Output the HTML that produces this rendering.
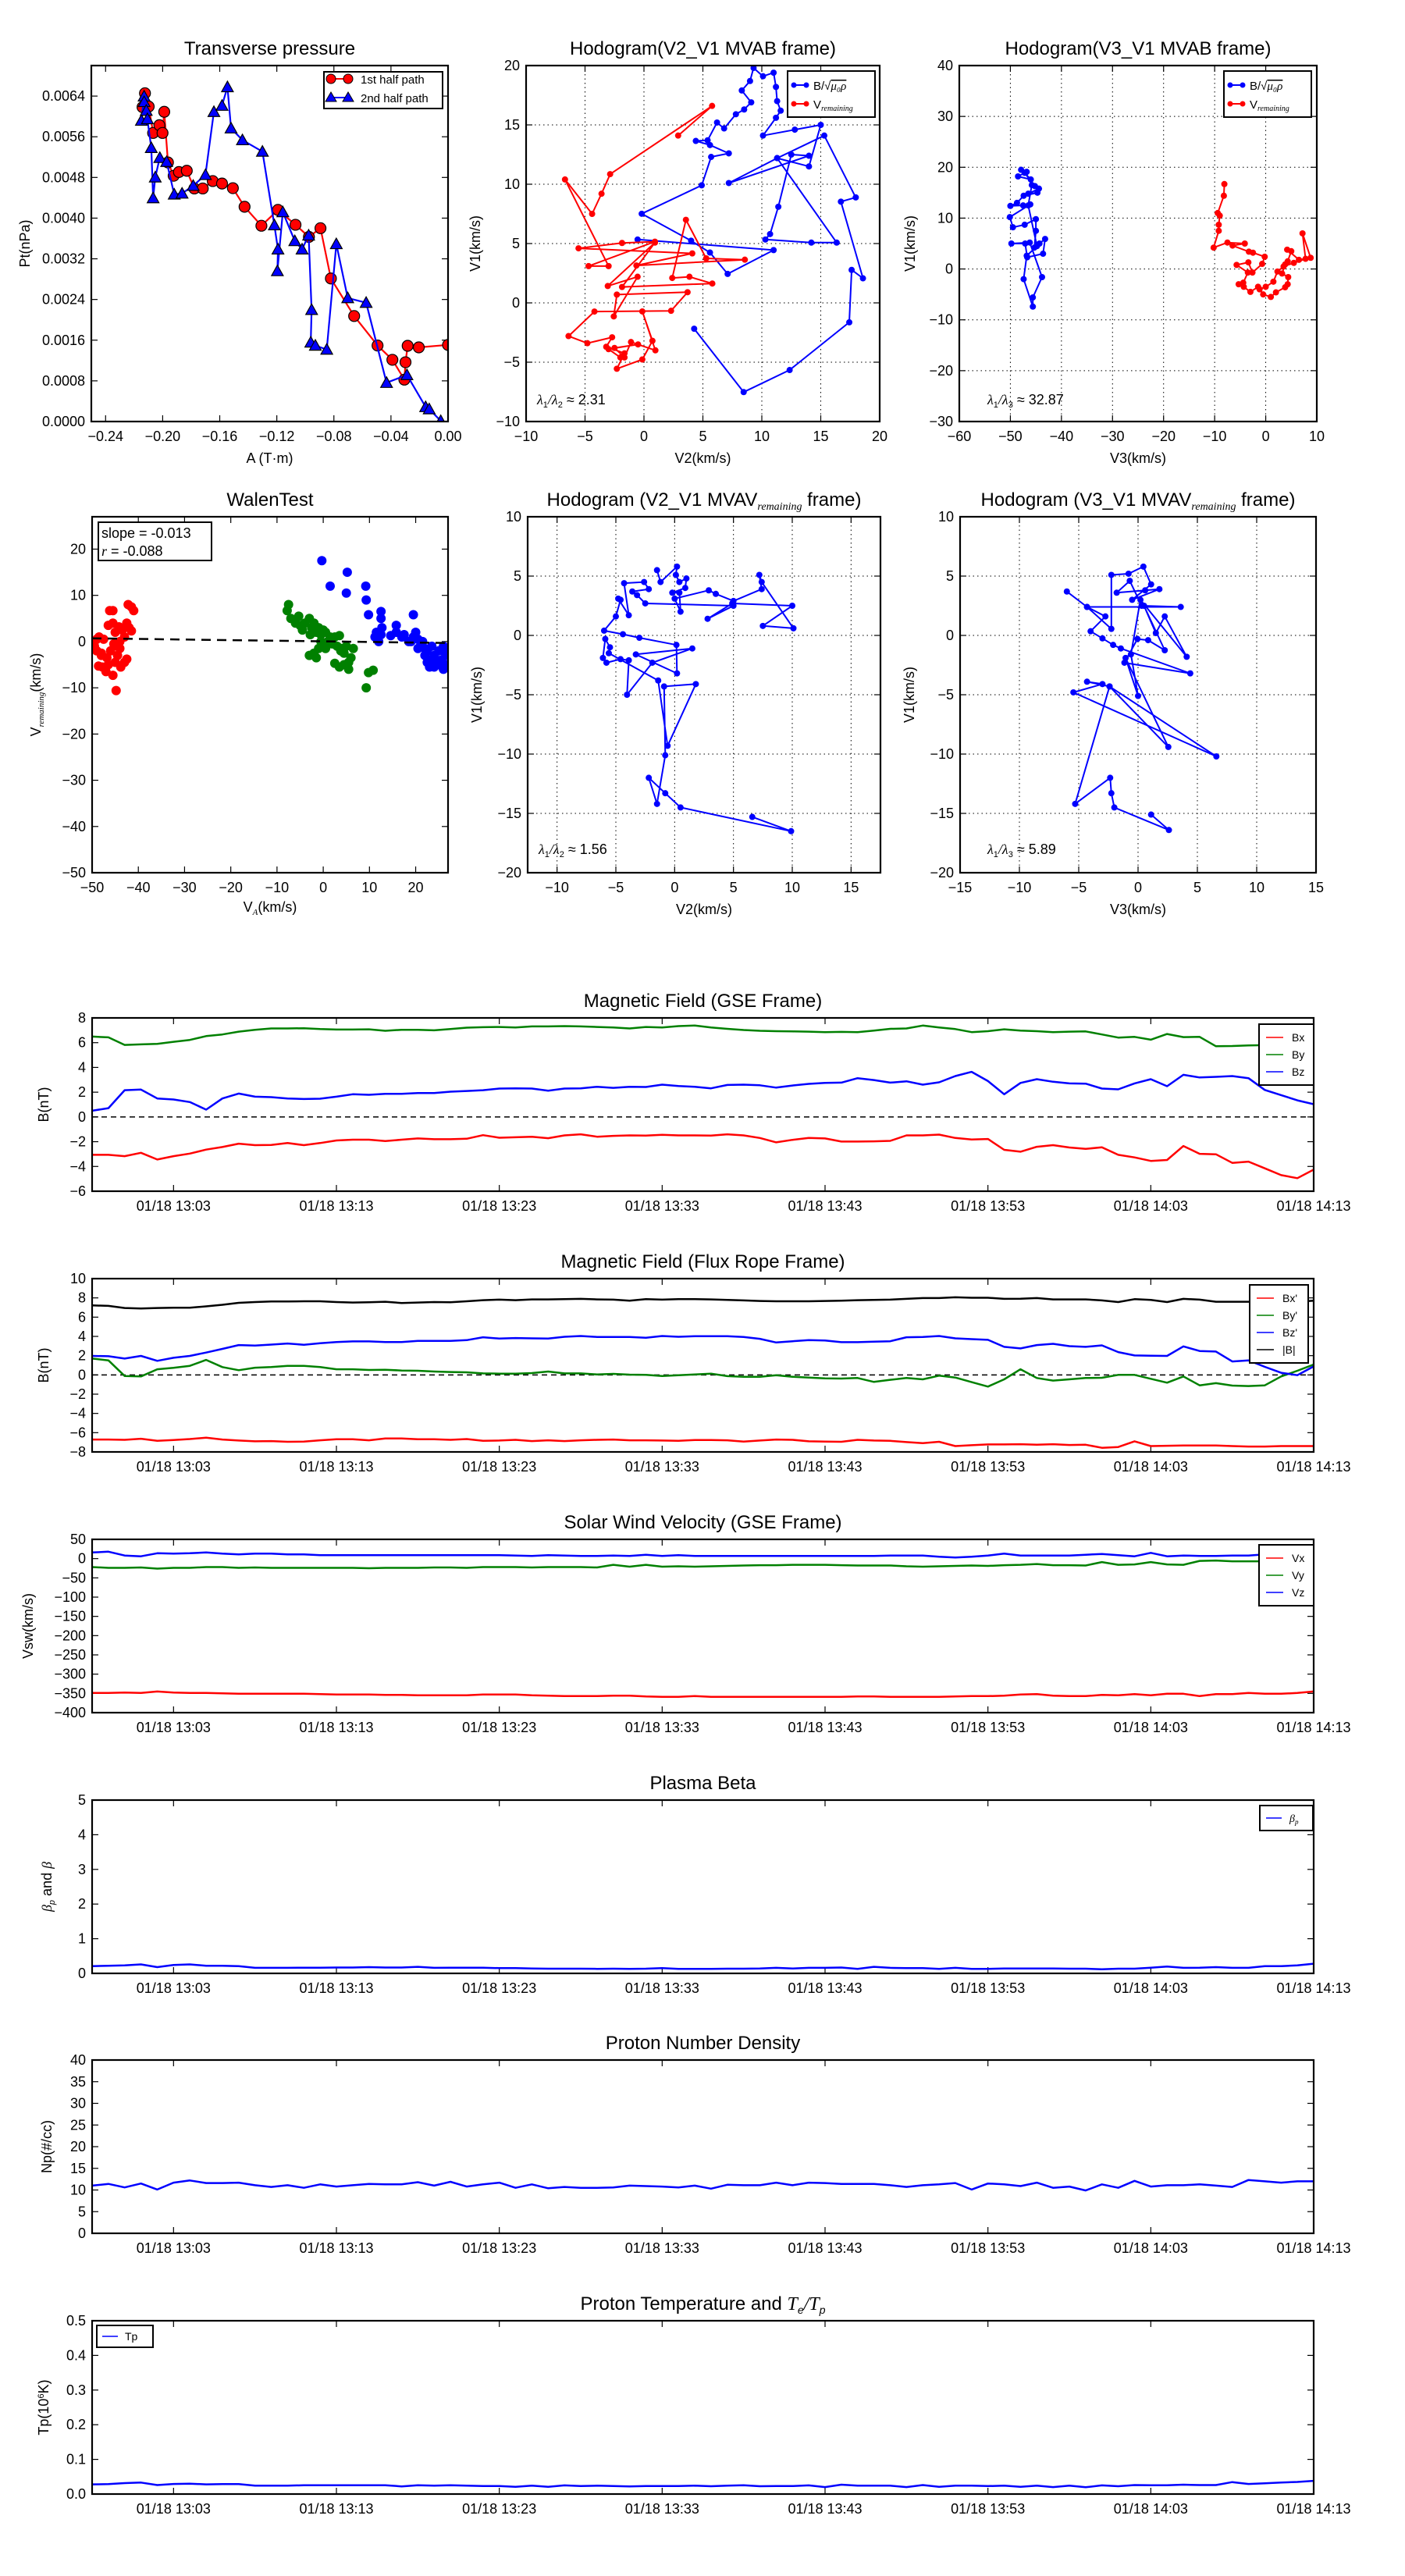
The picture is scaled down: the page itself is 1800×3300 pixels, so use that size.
<!DOCTYPE html>
<html><head><meta charset="utf-8"><title>Flux rope analysis</title>
<style>
html,body{margin:0;padding:0;background:#fff;}
svg{display:block;font-family:"Liberation Sans",sans-serif;}
</style></head>
<body>
<svg id="fig" xmlns="http://www.w3.org/2000/svg" width="1800" height="3300" viewBox="0 0 1800 3300">
<rect x="0" y="0" width="1800" height="3300" fill="#fff"/>
</svg>
<script>
// ---------- Transverse pressure ----------
const tpRedA = [-0.2141,-0.2124,-0.2098,-0.2067,-0.2023,-0.2001,-0.1989,-0.1963,-0.1923,-0.1886,-0.1831,-0.1778,-0.1719,-0.1649,-0.1584,-0.1508,-0.1426,-0.1308,-0.1192,-0.1069,-0.0975,-0.0894,-0.0821,-0.0658,-0.0494,-0.0390,-0.0306,-0.0298,-0.0283,-0.0205,0.0];
const tpRedPt = [0.006182,0.006456,0.006194,0.005675,0.005828,0.005675,0.00609,0.005095,0.004833,0.004906,0.004931,0.004583,0.004583,0.004729,0.00468,0.004589,0.004223,0.00385,0.004162,0.003869,0.003631,0.003802,0.002813,0.002075,0.001495,0.001214,0.000824,0.001166,0.001489,0.001458,0.001507];
const tpBlueA = [-0.2130,-0.2149,-0.2130,-0.2115,-0.2107,-0.2080,-0.2067,-0.2052,-0.2020,-0.1972,-0.1919,-0.1864,-0.1786,-0.1700,-0.1641,-0.1584,-0.1546,-0.1521,-0.1441,-0.1301,-0.1217,-0.1192,-0.1196,-0.1158,-0.1074,-0.1023,-0.0977,-0.0956,-0.0962,-0.0930,-0.0850,-0.0783,-0.0703,-0.0574,-0.0431,-0.0288,-0.0157,-0.0132,-0.0051];
const tpBluePt = [0.006395,0.005919,0.006285,0.006114,0.005949,0.005382,0.004394,0.004803,0.005187,0.005108,0.004467,0.004485,0.004638,0.004851,0.00609,0.006212,0.006578,0.005767,0.005535,0.005309,0.003863,0.003387,0.00296,0.004119,0.003551,0.003387,0.003661,0.002197,0.001556,0.001495,0.001416,0.003491,0.002429,0.002337,0.000763,0.000915,0.000287,0.000244,0.000012];
const tpXTicks = [-0.24,-0.20,-0.16,-0.12,-0.08,-0.04,0.00];
const tpYTicks = [0,0.0008,0.0016,0.0024,0.0032,0.0040,0.0048,0.0056,0.0064];

// ---------- Hodogram V2_V1 MVAB ----------
const h1BlueV2 = [4.26,8.46,12.36,17.42,17.62,18.58,16.71,17.97,15.3,11.3,16.35,14.2,10.3,10.7,11.4,12.5,14.0,7.2,11.3,14.0,15.0,12.8,10.1,11.2,11.6,11.3,11.2,11.0,10.1,9.3,9.0,8.3,9.1,8.5,7.8,6.8,6.2,5.4,4.4,5.6,7.2,5.7,4.9,-0.19,4.0,5.6,7.1,11.0,-0.54];
const h1BlueV1 = [-2.18,-7.52,-5.66,-1.64,2.78,2.07,8.53,8.89,14.1,12.2,5.08,5.08,5.34,5.8,8.1,12.5,12.4,10.1,12.2,11.5,15.0,14.6,14.1,15.6,16.2,17.0,18.2,19.4,19.1,19.8,18.7,17.9,16.9,16.3,15.9,14.7,15.2,13.7,13.65,13.3,12.6,12.3,9.91,7.51,5.24,4.24,2.44,4.45,5.34];
const h1RedV2 = [2.9,5.78,-2.87,-3.6,-4.4,-6.7,-3.0,-4.7,0.93,-1.86,-5.55,4.1,-0.64,8.56,5.28,3.56,2.4,3.86,5.8,-1.86,0.93,-3.07,-0.54,-2.56,-2.3,3.7,2.3,-4.2,-6.4,-4.8,-2.7,-3.2,-1.65,-2.3,-0.14,0.72,-0.14,0.97,-1.1,-1.65,-2.5,-0.5,-3.0,-2.0];
const h1RedV1 = [14.1,16.6,10.85,9.2,7.5,10.4,3.1,3.1,5.16,5.05,4.6,4.17,3.15,3.64,3.75,7.0,2.1,2.2,1.63,1.34,5.08,1.42,2.2,-1.14,0.7,0.9,-0.67,-0.73,-2.8,-3.4,-2.9,-3.7,-4.25,-5.55,-4.77,-3.2,-0.72,-4.0,-3.3,-4.6,-3.8,-3.5,-3.9,-4.6];

// ---------- Hodogram V3_V1 MVAB ----------
const h2BlueV3 = [-47.9,-46.8,-48.5,-46,-47.2,-45.2,-44.4,-46.5,-44.7,-47.4,-48.7,-50,-47.5,-46.1,-50.1,-49.5,-47.2,-45,-45,-45.3,-44.3,-43.2,-43.6,-46.7,-47.1,-49.8,-46.2,-43.8,-45.6,-45.6,-47.4,-46.8,-44.8,-46.5,-45.8,-47.0];
const h2BlueV1 = [19.5,19.1,18.2,17.6,18.9,16.3,15.8,14.8,15,14.4,13,12.4,12.5,12.7,10.2,8.2,8.7,9.8,7.5,4.2,5,5.9,3,2.3,5,5,5.2,-1.6,-5.6,-7.4,-2,2.6,4.5,12.5,16.5,19.0];
const h2RedV3 = [-8.1,-8.2,-9.4,-9.0,-9.2,-9.2,-10.2,-7.5,-4.1,-6.5,-3.3,-2.5,-0.2,-0.7,-2.6,-3.4,-5.7,-3.5,-4.4,-5.3,-4.3,-3.0,-1.5,-0.5,1,2,3.8,4.3,4.4,3.2,3.8,4.3,5,4.2,6.5,8.8,7.2,7.8,5.5,3.5,2.3,1.5,0,-1.2];
const h2RedV1 = [16.7,14.4,11,10.5,8.7,7.5,4.2,5.2,5,4.6,3.4,3.2,2.4,1,-0.7,1.3,0.8,-0.7,-2.7,-3.0,-3.5,-4.5,-3.5,-5,-5.5,-4.6,-3.6,-3,-1.6,-0.9,0.9,1.5,3.5,3.8,1.8,2.2,7,2,1.2,0.5,-0.5,-2.5,-3.5,-4];

// ---------- Walen test ----------
const walRedVA = [-49.5,-49,-48.5,-48,-47.8,-47,-46.2,-46.5,-45.5,-45.5,-45,-45.3,-46,-45,-46.5,-45.5,-44.8,-44.5,-44,-44,-43.5,-43,-42.5,-42.2,-41.5,-41,-42,-42.5,-43,-41.5,-47.5,-49,-48,-44.5,-43.8,-46.8,-44.2,-48.6];
const walRedVr = [-1,-2,1,-3,-5.5,-6.5,6.7,3.5,6.7,4,2,-0.5,-2,-4.5,-5,-7.3,-10.6,-3,0,-1.5,2.5,-4.5,4,8,7.5,6.7,3,-3.8,1,2.3,0.5,0.5,-2.5,-1,-5.5,-3.5,3.2,-5.3];
const walGreenVA = [-7.5,-7.8,-7,-5.3,-5,-4.5,-3,-2.5,-2.8,-2,-1.5,-1,-0.5,0,0.5,1,1.5,2,2.5,3.5,3,4,4.5,5,6.5,6,5.5,4.5,3.5,2.5,5.5,-1,-2,-1.5,-3,9.8,10.8,9.3,0.5,2,-0.5,-6,-4,1.2,3.8];
const walGreenVr = [8,6.7,5,5.5,3.5,2.5,5,3,1.5,4,2,3,1.5,2.5,2,0,1,-0.5,1,1.3,-1,-1.5,-2.5,-1,-1.5,-3.5,-4.5,-5,-5.5,-4.7,-6,-1.5,-2.5,-3.5,-3,-6.7,-6.2,-10,-1.5,0.5,0,4,4,-0.5,-2];
const walBlueVA = [-0.3,5.2,1.5,5,9.2,9.3,9.8,12.5,12.5,12.7,19.5,15.8,15.8,11.5,11.2,12,12.5,14.6,17,17.5,19,19.5,20,20.5,21,21.5,22,22,22.5,23,23,24,24.5,25,25.5,26,26.5,26.5,25,26,23.5,22.5,24,18.5,20.5,26.7];
const walBlueVr = [17.5,15,12,10.5,12,9,5.8,6.5,5,3,5.8,3.5,2,2,1,0,1.5,1.3,1,1.5,0,1,2,0.5,-1,0,-1.5,-3,-2,-4,-5.5,-3,-4.5,-2,-4,-1,-3,-5,-5,-6,-1,-4.5,-5.5,0,-1.5,-2.5];
const walSlope = -0.013;
const walIntercept = 0.05;

// ---------- Hodogram MVAV middle / right ----------
const h3V2 = [-1.5,-1.2,0.2,0.1,0.4,1.0,0.9,-0.2,0.4,0.5,0.0,2.9,3.5,5.0,7.4,7.2,7.4,10.1,7.5,10.0,4.9,2.8,5.0,-2.5,-3.2,-3.6,-2.2,-2.6,-4.3,-3.9,-4.8,-4.6,-5.0,-6.0,-4.4,-3.0,0.15,0.2,-3.3,1.5,-1.9,-4.05,-3.9,-4.6,-5.8,-6.1,-5.9,-5.5,-5.6,-1.4,-0.6,1.8,-0.9,-0.8,-1.5,-2.2,-0.8,0.5,9.9,6.6];
const h3V1 = [5.5,4.5,5.8,5.1,4.5,4.8,4.0,3.6,3.6,2.0,3.1,3.8,3.5,2.9,3.9,5.1,4.5,0.6,0.8,2.5,2.7,1.4,2.5,2.7,3.4,3.7,3.9,4.5,4.4,1.7,3.1,3.0,1.6,0.4,0.1,-0.2,-0.8,-3.2,-1.6,-1.1,-2.3,-5.0,-2.1,-2.0,-2.3,-1.9,-0.3,-1.0,-1.5,-3.8,-9.3,-4.1,-4.3,-10.1,-14.2,-12.0,-13.3,-14.5,-16.5,-15.3];
const h4V3 = [-6.0,-4.3,-2.25,-2.25,-0.8,0.45,1.1,-0.5,1.8,0.6,-1.8,-0.7,0.3,3.6,-4.3,-2.75,-4.0,-3.0,-2.1,-1.45,4.4,-1.15,-0.05,0.85,2.25,0.5,1.5,2.25,4.1,0.2,-0.6,0,-1.05,2.55,-2.4,-4.3,-3.0,-5.45,6.6,-2.4,-5.3,-2.35,-2.25,-2.0,2.6,1.1];
const h4V1 = [3.7,2.4,0.55,5.1,5.2,5.8,4.3,3.0,3.9,3.8,3.6,4.6,2.5,2.4,2.4,1.6,0.35,-0.25,-0.8,-1.1,-3.2,-2.3,-0.3,-0.4,-1.25,2.5,0.2,1.6,-1.8,3.0,-1.6,-5.1,-1.9,-9.4,-4.3,-3.9,-4.1,-4.8,-10.2,-4.3,-14.2,-12.0,-13.3,-14.5,-16.4,-15.1];

// ---------- Time series (1-min samples starting 12:58) ----------
const tsStartMinute = 12*60+58;
const timeTickLabels = ["01/18 13:03","01/18 13:13","01/18 13:23","01/18 13:33","01/18 13:43","01/18 13:53","01/18 14:03","01/18 14:13"];
const timeTickMinutes = [5,15,25,35,45,55,65,75];
const bxGse = [-3.06,-3.06,-3.17,-2.9,-3.44,-3.17,-2.96,-2.64,-2.43,-2.16,-2.28,-2.26,-2.11,-2.28,-2.11,-1.9,-1.84,-1.84,-1.95,-1.84,-1.74,-1.8,-1.8,-1.76,-1.47,-1.68,-1.64,-1.6,-1.72,-1.49,-1.4,-1.6,-1.53,-1.49,-1.51,-1.45,-1.49,-1.49,-1.51,-1.4,-1.49,-1.7,-2.05,-1.85,-1.7,-1.74,-1.99,-1.99,-1.97,-1.93,-1.49,-1.49,-1.43,-1.7,-1.82,-1.78,-2.66,-2.81,-2.41,-2.28,-2.47,-2.58,-2.45,-3.06,-3.27,-3.55,-3.48,-2.35,-2.98,-3.02,-3.71,-3.61,-4.15,-4.7,-4.95,-4.25];
const byGse = [6.49,6.43,5.82,5.86,5.9,6.07,6.22,6.53,6.66,6.89,7.04,7.15,7.15,7.17,7.1,7.06,7.06,7.08,6.96,7.04,7.04,7.0,7.1,7.21,7.25,7.27,7.23,7.31,7.31,7.34,7.31,7.27,7.23,7.15,7.27,7.23,7.34,7.38,7.23,7.12,7.02,6.96,6.93,6.91,6.89,6.85,6.87,6.85,6.98,7.12,7.15,7.38,7.23,7.1,6.85,6.93,7.08,6.98,6.93,6.85,6.89,6.91,6.66,6.41,6.47,6.24,6.7,6.45,6.47,5.71,5.73,5.78,5.8,5.78,5.8,6.2];
const bzGse = [0.5,0.71,2.16,2.21,1.49,1.41,1.2,0.59,1.49,1.89,1.64,1.6,1.49,1.45,1.47,1.64,1.83,1.79,1.87,1.87,1.93,1.93,2.04,2.1,2.16,2.29,2.31,2.29,2.12,2.29,2.31,2.44,2.35,2.44,2.42,2.61,2.5,2.44,2.31,2.58,2.61,2.56,2.37,2.54,2.67,2.75,2.77,3.13,2.98,2.77,2.88,2.61,2.8,3.3,3.64,2.9,1.83,2.75,3.05,2.84,2.71,2.69,2.29,2.23,2.71,3.05,2.48,3.4,3.19,3.24,3.3,3.13,2.18,1.76,1.34,1.03];
const bxFr = [-6.71,-6.71,-6.74,-6.63,-6.85,-6.77,-6.66,-6.52,-6.71,-6.82,-6.9,-6.87,-6.95,-6.93,-6.79,-6.68,-6.68,-6.79,-6.6,-6.6,-6.68,-6.68,-6.74,-6.66,-6.85,-6.82,-6.74,-6.87,-6.79,-6.87,-6.79,-6.74,-6.71,-6.79,-6.79,-6.82,-6.85,-6.77,-6.77,-6.79,-6.93,-6.82,-6.71,-6.74,-6.9,-6.93,-6.95,-6.74,-6.82,-6.85,-6.98,-7.09,-6.95,-7.39,-7.3,-7.22,-7.22,-7.2,-7.25,-7.2,-7.28,-7.25,-7.57,-7.49,-6.9,-7.39,-7.36,-7.33,-7.33,-7.33,-7.39,-7.44,-7.44,-7.39,-7.39,-7.39];
const byFr = [1.7,1.51,-0.11,-0.16,0.59,0.73,0.94,1.56,0.81,0.49,0.75,0.81,0.94,0.94,0.81,0.59,0.59,0.51,0.54,0.46,0.43,0.35,0.3,0.27,0.16,0.13,0.13,0.19,0.35,0.16,0.16,0.05,0.11,0.03,0,-0.11,-0.03,0.05,0.13,-0.13,-0.19,-0.19,-0.03,-0.19,-0.27,-0.35,-0.38,-0.32,-0.73,-0.51,-0.32,-0.46,-0.08,-0.27,-0.75,-1.21,-0.46,0.59,-0.32,-0.59,-0.46,-0.32,-0.3,0,0,-0.4,-0.81,-0.16,-1.08,-0.86,-1.11,-1.16,-1.08,-0.16,0.43,1.08];
const bzFr = [1.97,1.94,1.7,1.97,1.46,1.78,1.97,2.32,2.7,3.1,3.05,3.15,3.26,3.13,3.29,3.42,3.48,3.48,3.42,3.42,3.53,3.53,3.53,3.61,3.91,3.77,3.83,3.8,3.77,3.96,4.04,3.94,3.94,3.94,3.85,4.04,3.96,4.02,4.02,4.02,3.94,3.75,3.37,3.5,3.61,3.58,3.4,3.4,3.45,3.5,3.91,3.94,4.04,3.8,3.72,3.64,2.91,2.75,3.1,3.23,2.99,2.91,3.07,2.37,2.02,1.99,1.97,2.96,2.48,2.43,1.4,1.51,0.84,0.22,-0.03,0.89];
const bmagFr = [7.22,7.17,6.95,6.9,6.95,6.98,6.98,7.12,7.28,7.49,7.57,7.63,7.63,7.65,7.65,7.57,7.52,7.55,7.6,7.47,7.52,7.57,7.55,7.65,7.76,7.82,7.76,7.84,7.84,7.87,7.9,7.84,7.82,7.71,7.87,7.82,7.87,7.87,7.84,7.79,7.74,7.68,7.65,7.65,7.65,7.68,7.71,7.76,7.79,7.82,7.9,7.98,7.98,8.06,8.01,8.01,7.9,7.92,7.98,7.84,7.84,7.84,7.74,7.57,7.87,7.79,7.57,7.9,7.82,7.6,7.6,7.6,7.6,7.6,7.6,7.71];
const vxGse = [-349,-349,-348,-349,-345,-348,-349,-349,-350,-351,-351,-351,-351,-351,-352,-353,-353,-353,-354,-354,-355,-355,-355,-355,-353,-353,-353,-355,-356,-357,-357,-357,-356,-356,-358,-359,-359,-357,-359,-359,-359,-359,-359,-359,-359,-359,-359,-358,-358,-359,-359,-359,-359,-358,-357,-357,-356,-353,-352,-356,-357,-357,-354,-355,-352,-355,-351,-351,-357,-352,-352,-349,-351,-351,-349,-345];
const vyGse = [-22,-24,-24,-23,-26,-24,-24,-22,-22,-24,-23,-24,-24,-24,-24,-24,-24,-25,-24,-24,-24,-23,-23,-24,-22,-22,-22,-23,-22,-22,-22,-23,-16,-21,-16,-21,-20,-21,-20,-19,-18,-17,-17,-16,-16,-16,-17,-18,-18,-18,-20,-21,-20,-19,-18,-19,-17,-16,-14,-17,-17,-18,-9,-16,-15,-9,-15,-16,-6,-5,-7,-7,-7,-7,-5,-4];
const vzGse = [16,18,8,6,14,13,14,16,13,11,13,13,11,11,9,9,9,9,9,9,9,9,9,9,9,9,8,7,9,8,7,7,8,7,10,7,9,7,7,7,7,7,7,7,7,7,7,7,7,8,8,8,5,3,5,8,13,8,8,8,8,10,12,9,6,15,6,8,7,7,8,8,11,13,14,16];
const betaP = [0.21,0.22,0.23,0.26,0.18,0.24,0.26,0.22,0.22,0.21,0.16,0.16,0.16,0.165,0.165,0.17,0.17,0.18,0.17,0.17,0.19,0.16,0.165,0.165,0.165,0.15,0.15,0.14,0.135,0.135,0.135,0.13,0.135,0.13,0.135,0.15,0.13,0.13,0.13,0.135,0.135,0.14,0.16,0.14,0.16,0.16,0.17,0.13,0.19,0.16,0.15,0.15,0.13,0.16,0.13,0.13,0.14,0.14,0.14,0.14,0.135,0.135,0.12,0.135,0.135,0.165,0.195,0.16,0.165,0.18,0.16,0.16,0.21,0.21,0.23,0.28];
const npDensity = [11.0,11.4,10.6,11.5,10.1,11.7,12.2,11.6,11.6,11.7,11.1,10.7,11.1,10.5,11.3,10.8,11.1,11.4,11.3,11.3,11.8,11.0,11.9,10.8,11.3,11.7,10.5,11.3,10.4,10.7,10.5,10.5,10.6,11.0,10.9,10.8,10.6,11.0,10.3,11.2,11.1,11.1,11.7,11.1,11.7,11.6,11.4,11.4,11.4,11.1,10.7,11.1,11.3,11.6,10.1,11.5,11.3,10.9,11.7,10.5,10.8,9.9,11.3,10.5,12.1,10.8,11.1,11.1,11.3,11.0,10.7,12.3,12.0,11.7,12.0,12.0];
const tpTemp = [0.028,0.0285,0.0315,0.033,0.026,0.029,0.03,0.028,0.0285,0.0285,0.024,0.024,0.024,0.0255,0.0255,0.0255,0.0255,0.0255,0.0255,0.022,0.0255,0.024,0.0255,0.024,0.023,0.023,0.021,0.024,0.021,0.025,0.023,0.024,0.023,0.022,0.023,0.023,0.023,0.024,0.0225,0.024,0.0255,0.0225,0.023,0.023,0.025,0.020,0.027,0.024,0.024,0.024,0.020,0.026,0.021,0.024,0.024,0.023,0.024,0.021,0.024,0.020,0.024,0.0195,0.025,0.0225,0.026,0.0255,0.0255,0.027,0.026,0.026,0.0345,0.029,0.031,0.033,0.035,0.038];

// ================= drawing =================
const NS = "http://www.w3.org/2000/svg";
const svg = document.getElementById('fig');
function mk(tag, attrs, parent) {
  const e = document.createElementNS(NS, tag);
  for (const k in attrs) e.setAttribute(k, attrs[k]);
  (parent || svg).appendChild(e);
  return e;
}
function nm(e, n) {
  
  
  return e;
}
function txt(x, y, s, size, anchor, parent, extra) {
  const t = mk('text', Object.assign({x: x, y: y, 'font-size': size, 'text-anchor': anchor || 'middle', fill: '#000'}, extra || {}), parent);
  t.textContent = s;
  return t;
}
function fmtMinus(v, d) { const s = v.toFixed(d); return s.replace('-', '\u2212'); }
let clipId = 0;
function axes(o) {
  const g = mk('g', {});
  nm(g, o.name);
  const sx = v => o.x0 + (v - o.xlim[0]) / (o.xlim[1] - o.xlim[0]) * o.w;
  const sy = v => o.y0 + o.h - (v - o.ylim[0]) / (o.ylim[1] - o.ylim[0]) * o.h;
  // grid
  if (o.grid) {
    o.xticks.forEach(v => { const l = mk('line', {x1: sx(v), x2: sx(v), y1: o.y0, y2: o.y0 + o.h, stroke: '#000', 'stroke-width': 1, 'stroke-dasharray': '1.5,4'}, g); nm(l, 'x-grid-line'); });
    o.yticks.forEach(v => { const l = mk('line', {x1: o.x0, x2: o.x0 + o.w, y1: sy(v), y2: sy(v), stroke: '#000', 'stroke-width': 1, 'stroke-dasharray': '1.5,4'}, g); nm(l, 'y-grid-line'); });
  }
  // ticks
  const tl = 8;
  o.xticks.forEach((v, i) => {
    const x = sx(v);
    nm(mk('line', {x1: x, x2: x, y1: o.y0 + o.h, y2: o.y0 + o.h - tl, stroke: '#000', 'stroke-width': 1.2}, g), 'x-tick');
    nm(mk('line', {x1: x, x2: x, y1: o.y0, y2: o.y0 + tl, stroke: '#000', 'stroke-width': 1.2}, g), 'x-tick-top');
    const lab = o.xlabels ? o.xlabels[i] : fmtMinus(v, o.xdec || 0);
    nm(txt(x, o.y0 + o.h + 25, lab, 18, 'middle', g), 'x-tick-label');
  });
  o.yticks.forEach(v => {
    const y = sy(v);
    nm(mk('line', {x1: o.x0, x2: o.x0 + tl, y1: y, y2: y, stroke: '#000', 'stroke-width': 1.2}, g), 'y-tick');
    nm(mk('line', {x1: o.x0 + o.w, x2: o.x0 + o.w - tl, y1: y, y2: y, stroke: '#000', 'stroke-width': 1.2}, g), 'y-tick-right');
    nm(txt(o.x0 - 8, y + 6, fmtMinus(v, o.ydec || 0), 18, 'end', g), 'y-tick-label');
  });
  // clip
  clipId++;
  const cp = mk('clipPath', {id: 'c' + clipId}, g);
  mk('rect', {x: o.x0, y: o.y0, width: o.w, height: o.h}, cp);
  const data = mk('g', {'clip-path': 'url(#c' + clipId + ')'}, g);
  nm(data, o.name + '-data');
  // frame
  nm(mk('rect', {x: o.x0, y: o.y0, width: o.w, height: o.h, fill: 'none', stroke: '#000', 'stroke-width': 2.2}, g), 'plot-frame');
  // title
  if (o.title) { const t = txt(o.x0 + o.w / 2, o.y0 - 14, o.title, 24, 'middle', g); nm(t, 'chart-title'); o.titleEl = t; }
  if (o.xlabel) nm(txt(o.x0 + o.w / 2, o.y0 + o.h + 53, o.xlabel, 18, 'middle', g), 'x-axis-title');
  if (o.ylabel) {
    const t = txt(0, 0, o.ylabel, 18, 'middle', g, {transform: 'translate(' + o.ylx + ',' + (o.y0 + o.h / 2) + ') rotate(-90)'});
    nm(t, 'y-axis-title');
    o.ylabelEl = t;
  }
  return {sx, sy, g, data, o};
}
function polyline(ax, xs, ys, color, width, name) {
  const pts = xs.map((x, i) => ax.sx(x).toFixed(1) + ',' + ax.sy(ys[i]).toFixed(1)).join(' ');
  const p = mk('polyline', {points: pts, fill: 'none', stroke: color, 'stroke-width': width, 'stroke-linejoin': 'round'}, ax.data);
  nm(p, name);
  return p;
}
function dots(ax, xs, ys, color, r, name, edge) {
  xs.forEach((x, i) => {
    const c = mk('circle', {cx: ax.sx(x), cy: ax.sy(ys[i]), r: r, fill: color, stroke: edge || color, 'stroke-width': edge ? 1.2 : 0}, ax.data);
    nm(c, name);
  });
}
function tris(ax, xs, ys, color, s, name) {
  xs.forEach((x, i) => {
    const cx = ax.sx(x), cy = ax.sy(ys[i]);
    const p = mk('polygon', {points: cx + ',' + (cy - s) + ' ' + (cx - s) + ',' + (cy + s * 0.8) + ' ' + (cx + s) + ',' + (cy + s * 0.8), fill: color, stroke: '#000', 'stroke-width': 1.2}, ax.data);
    nm(p, name);
  });
}
function ticks(a, b, step) { const r = []; for (let v = a; v <= b + 1e-9; v += step) r.push(Math.round(v * 1e6) / 1e6); return r; }

// ---- Row 1 ----
const ax1 = axes({name: 'transverse-pressure-chart', x0: 117, y0: 84, w: 457, h: 456, xlim: [-0.25, 0], ylim: [0, 0.007], xticks: tpXTicks, yticks: tpYTicks, xdec: 2, ydec: 4, title: 'Transverse pressure', xlabel: 'A (T\u00b7m)', ylabel: 'Pt(nPa)', ylx: 38});
polyline(ax1, tpRedA, tpRedPt, '#ff0000', 2.2, 'first-half-path-line');
dots(ax1, tpRedA, tpRedPt, '#ff0000', 7, 'first-half-path-marker', '#000');
polyline(ax1, tpBlueA, tpBluePt, '#0000ff', 2.2, 'second-half-path-line');
tris(ax1, tpBlueA, tpBluePt, '#0000ff', 7.5, 'second-half-path-marker');
(function () {
  const g = mk('g', {}); nm(g, 'legend');
  nm(mk('rect', {x: 415, y: 92, width: 152, height: 47, fill: '#fff', stroke: '#000', 'stroke-width': 2}, g), 'legend-frame');
  nm(mk('line', {x1: 424, x2: 446, y1: 101, y2: 101, stroke: '#ff0000', 'stroke-width': 2}, g), 'legend-line-1st');
  nm(mk('circle', {cx: 424, cy: 101, r: 6, fill: '#ff0000', stroke: '#000'}, g), 'legend-marker-1st');
  nm(mk('circle', {cx: 446, cy: 101, r: 6, fill: '#ff0000', stroke: '#000'}, g), 'legend-marker-1st');
  nm(txt(462, 107, '1st half path', 15, 'start', g), 'legend-entry-1st-half');
  nm(mk('line', {x1: 424, x2: 446, y1: 125, y2: 125, stroke: '#0000ff', 'stroke-width': 2}, g), 'legend-line-2nd');
  nm(mk('polygon', {points: '424,118 417,130 431,130', fill: '#0000ff', stroke: '#000'}, g), 'legend-marker-2nd');
  nm(mk('polygon', {points: '446,118 439,130 453,130', fill: '#0000ff', stroke: '#000'}, g), 'legend-marker-2nd');
  nm(txt(462, 131, '2nd half path', 15, 'start', g), 'legend-entry-2nd-half');
})();

function hodoLegend(x, y) {
  const g = mk('g', {}); nm(g, 'legend');
  nm(mk('rect', {x: x, y: y, width: 112, height: 59, fill: '#fff', stroke: '#000', 'stroke-width': 2}, g), 'legend-frame');
  nm(mk('line', {x1: x + 7, x2: x + 25, y1: y + 18, y2: y + 18, stroke: '#0000ff', 'stroke-width': 2}, g), 'legend-line-b');
  nm(mk('circle', {cx: x + 8, cy: y + 18, r: 3.5, fill: '#0000ff'}, g), 'legend-marker-b');
  nm(mk('circle', {cx: x + 24, cy: y + 18, r: 3.5, fill: '#0000ff'}, g), 'legend-marker-b');
  const t1 = txt(x + 33, y + 24, 'B/\u221a', 15, 'start', g); nm(t1, 'legend-entry-b-alfven');
  const ts = mk('tspan', {'font-style': 'italic', 'font-family': 'Liberation Serif, serif', 'text-decoration': 'overline'}, t1); ts.textContent = '\u03bc\u2080\u03c1';
  nm(mk('line', {x1: x + 7, x2: x + 25, y1: y + 42, y2: y + 42, stroke: '#ff0000', 'stroke-width': 2}, g), 'legend-line-v');
  nm(mk('circle', {cx: x + 8, cy: y + 42, r: 3.5, fill: '#ff0000'}, g), 'legend-marker-v');
  nm(mk('circle', {cx: x + 24, cy: y + 42, r: 3.5, fill: '#ff0000'}, g), 'legend-marker-v');
  const t2 = txt(x + 33, y + 48, 'V', 15, 'start', g); nm(t2, 'legend-entry-v-remaining');
  const ts2 = mk('tspan', {'font-size': 10, 'font-style': 'italic', 'font-family': 'Liberation Serif, serif', dy: 3}, t2); ts2.textContent = 'remaining';
}
function lambdaText(x, y, sub, val, parent) {
  const t = txt(x, y, '', 18, 'start', parent);
  nm(t, 'eigenvalue-ratio-annotation');
  const a = mk('tspan', {'font-style': 'italic', 'font-family': 'Liberation Serif, serif'}, t); a.textContent = '\u03bb';
  const b = mk('tspan', {'font-size': 11, dy: 4}, t); b.textContent = '1';
  const c = mk('tspan', {dy: -4, 'font-style': 'italic', 'font-family': 'Liberation Serif, serif'}, t); c.textContent = '/\u03bb';
  const d = mk('tspan', {'font-size': 11, dy: 4}, t); d.textContent = sub;
  const e = mk('tspan', {dy: -4}, t); e.textContent = ' \u2248 ' + val;
}

const ax2 = axes({name: 'hodogram-v2-v1-mvab', x0: 674, y0: 84, w: 453, h: 456, xlim: [-10, 20], ylim: [-10, 20], xticks: ticks(-10, 20, 5), yticks: ticks(-10, 20, 5), grid: true, title: 'Hodogram(V2_V1 MVAB frame)', xlabel: 'V2(km/s)', ylabel: 'V1(km/s)', ylx: 615});
polyline(ax2, h1BlueV2, h1BlueV1, '#0000ff', 2, 'alfven-velocity-line');
dots(ax2, h1BlueV2, h1BlueV1, '#0000ff', 4, 'alfven-velocity-point');
polyline(ax2, h1RedV2, h1RedV1, '#ff0000', 2, 'remaining-velocity-line');
dots(ax2, h1RedV2, h1RedV1, '#ff0000', 4, 'remaining-velocity-point');
hodoLegend(1009, 91);
lambdaText(688, 518, '2', '2.31', ax2.g);

const ax3 = axes({name: 'hodogram-v3-v1-mvab', x0: 1229, y0: 84, w: 458, h: 456, xlim: [-60, 10], ylim: [-30, 40], xticks: ticks(-60, 10, 10), yticks: ticks(-30, 40, 10), grid: true, title: 'Hodogram(V3_V1 MVAB frame)', xlabel: 'V3(km/s)', ylabel: 'V1(km/s)', ylx: 1172});
polyline(ax3, h2BlueV3, h2BlueV1, '#0000ff', 2, 'alfven-velocity-line');
dots(ax3, h2BlueV3, h2BlueV1, '#0000ff', 4, 'alfven-velocity-point');
polyline(ax3, h2RedV3, h2RedV1, '#ff0000', 2, 'remaining-velocity-line');
dots(ax3, h2RedV3, h2RedV1, '#ff0000', 4, 'remaining-velocity-point');
hodoLegend(1568, 91);
lambdaText(1265, 518, '3', '32.87', ax3.g);

// ---- Row 2 ----
const ax4 = axes({name: 'walen-test-chart', x0: 118, y0: 662, w: 456, h: 456, xlim: [-50, 27], ylim: [-50, 27], xticks: ticks(-50, 20, 10), yticks: ticks(-50, 20, 10), title: 'WalenTest', ylx: 52});
dots(ax4, walRedVA, walRedVr, '#ff0000', 6, 'walen-point-red');
dots(ax4, walGreenVA, walGreenVr, '#008000', 6, 'walen-point-green');
dots(ax4, walBlueVA, walBlueVr, '#0000ff', 6, 'walen-point-blue');
(function () {
  const xa = [-50, 27];
  const l = mk('line', {x1: ax4.sx(xa[0]), y1: ax4.sy(walSlope * xa[0] + walIntercept), x2: ax4.sx(xa[1]), y2: ax4.sy(walSlope * xa[1] + walIntercept), stroke: '#000', 'stroke-width': 2.5, 'stroke-dasharray': '12,8'}, ax4.data);
  nm(l, 'walen-fit-line');
  const g = mk('g', {}); nm(g, 'walen-stats-box');
  nm(mk('rect', {x: 126, y: 669, width: 145, height: 49, fill: '#fff', stroke: '#000', 'stroke-width': 2}, g), 'stats-frame');
  nm(txt(130, 689, 'slope = -0.013', 18, 'start', g), 'slope-label');
  const t = txt(130, 712, '', 18, 'start', g); nm(t, 'correlation-label');
  const a = mk('tspan', {'font-style': 'italic', 'font-family': 'Liberation Serif, serif'}, t); a.textContent = 'r';
  const b = mk('tspan', {}, t); b.textContent = ' = -0.088';
  const xl = txt(346, 1168, 'V', 18, 'middle', ax4.g); nm(xl, 'x-axis-title');
  const s = mk('tspan', {'font-size': 11, dy: 4, 'font-style': 'italic', 'font-family': 'Liberation Serif, serif'}, xl); s.textContent = 'A';
  const s2 = mk('tspan', {dy: -4}, xl); s2.textContent = '(km/s)';
  const yl = txt(0, 0, 'V', 18, 'middle', ax4.g, {transform: 'translate(52,890) rotate(-90)'}); nm(yl, 'y-axis-title');
  const y1 = mk('tspan', {'font-size': 11, dy: 4, 'font-style': 'italic', 'font-family': 'Liberation Serif, serif'}, yl); y1.textContent = 'remaining';
  const y2 = mk('tspan', {dy: -4}, yl); y2.textContent = '(km/s)';
})();

function mvavTitle(ax, pre) {
  const t = ax.o.titleEl; t.textContent = '';
  const a = mk('tspan', {}, t); a.textContent = pre;
  const b = mk('tspan', {'font-size': 14, dy: 5, 'font-style': 'italic', 'font-family': 'Liberation Serif, serif'}, t); b.textContent = 'remaining';
  const c = mk('tspan', {dy: -5}, t); c.textContent = ' frame)';
}
const ax5 = axes({name: 'hodogram-v2-v1-mvav', x0: 676, y0: 662, w: 452, h: 456, xlim: [-12.5, 17.5], ylim: [-20, 10], xticks: ticks(-10, 15, 5), yticks: ticks(-20, 10, 5), grid: true, title: 'x', xlabel: 'V2(km/s)', ylabel: 'V1(km/s)', ylx: 617});
mvavTitle(ax5, 'Hodogram (V2_V1 MVAV');
polyline(ax5, h3V2, h3V1, '#0000ff', 2, 'velocity-hodogram-line');
dots(ax5, h3V2, h3V1, '#0000ff', 4, 'velocity-hodogram-point');
lambdaText(690, 1094, '2', '1.56', ax5.g);

const ax6 = axes({name: 'hodogram-v3-v1-mvav', x0: 1230, y0: 662, w: 456, h: 456, xlim: [-15, 15], ylim: [-20, 10], xticks: ticks(-15, 15, 5), yticks: ticks(-20, 10, 5), grid: true, title: 'x', xlabel: 'V3(km/s)', ylabel: 'V1(km/s)', ylx: 1171});
mvavTitle(ax6, 'Hodogram (V3_V1 MVAV');
polyline(ax6, h4V3, h4V1, '#0000ff', 2, 'velocity-hodogram-line');
dots(ax6, h4V3, h4V1, '#0000ff', 4, 'velocity-hodogram-point');
lambdaText(1265, 1094, '3', '5.89', ax6.g);

// ---- Time series ----
function tsAxes(o) {
  o.x0 = 118; o.w = 1565; o.h = 222;
  o.xlim = [0, 75]; o.xticks = timeTickMinutes; o.xlabels = timeTickLabels;
  return axes(o);
}
function tsLine(ax, vals, color, name, w) {
  const xs = vals.map((v, i) => i);
  polyline(ax, xs, vals, color, w || 2.5, name);
}
function tsLegend(x, y, w, items) {
  const g = mk('g', {}); nm(g, 'legend');
  nm(mk('rect', {x: x, y: y, width: w, height: 12 + items.length * 22, fill: '#fff', stroke: '#000', 'stroke-width': 2}, g), 'legend-frame');
  items.forEach((it, i) => {
    const cy = y + 17 + i * 22;
    nm(mk('line', {x1: x + 9, x2: x + 31, y1: cy, y2: cy, stroke: it[1], 'stroke-width': 1.5}, g), 'legend-swatch');
    nm(txt(x + 42, cy + 5, it[0], 14, 'start', g), 'legend-entry-' + it[0].toLowerCase().replace(/[^a-z]/g, ''));
  });
}
function zeroLine(ax) {
  const l = mk('line', {x1: ax.o.x0, x2: ax.o.x0 + ax.o.w, y1: ax.sy(0), y2: ax.sy(0), stroke: '#000', 'stroke-width': 1.5, 'stroke-dasharray': '7,5'}, ax.data);
  nm(l, 'zero-reference-line');
}

const tA = tsAxes({name: 'magnetic-field-gse-chart', y0: 1304, ylim: [-6, 8], yticks: ticks(-6, 8, 2), title: 'Magnetic Field (GSE Frame)', ylabel: 'B(nT)', ylx: 62});
zeroLine(tA);
tsLine(tA, bxGse, '#ff0000', 'bx-gse-line');
tsLine(tA, byGse, '#008000', 'by-gse-line');
tsLine(tA, bzGse, '#0000ff', 'bz-gse-line');
tsLegend(1613, 1312, 70, [['Bx', '#ff0000'], ['By', '#008000'], ['Bz', '#0000ff']]);

const tB = tsAxes({name: 'magnetic-field-flux-rope-chart', y0: 1638, ylim: [-8, 10], yticks: ticks(-8, 10, 2), title: 'Magnetic Field (Flux Rope Frame)', ylabel: 'B(nT)', ylx: 62});
zeroLine(tB);
tsLine(tB, bxFr, '#ff0000', 'bx-prime-line');
tsLine(tB, byFr, '#008000', 'by-prime-line');
tsLine(tB, bzFr, '#0000ff', 'bz-prime-line');
tsLine(tB, bmagFr, '#000000', 'b-magnitude-line');
tsLegend(1601, 1646, 75, [["Bx'", '#ff0000'], ["By'", '#008000'], ["Bz'", '#0000ff'], ['|B|', '#000']]);

const tC = tsAxes({name: 'solar-wind-velocity-chart', y0: 1972, ylim: [-400, 50], yticks: ticks(-400, 50, 50), title: 'Solar Wind Velocity (GSE Frame)', ylabel: 'Vsw(km/s)', ylx: 42});
tsLine(tC, vxGse, '#ff0000', 'vx-line');
tsLine(tC, vyGse, '#008000', 'vy-line');
tsLine(tC, vzGse, '#0000ff', 'vz-line');
tsLegend(1613, 1979, 70, [['Vx', '#ff0000'], ['Vy', '#008000'], ['Vz', '#0000ff']]);

const tD = tsAxes({name: 'plasma-beta-chart', y0: 2306, ylim: [0, 5], yticks: ticks(0, 5, 1), title: 'Plasma Beta', ylabel: 'x', ylx: 66});
tD.o.ylabelEl.textContent = '';
(function () {
  const t = tD.o.ylabelEl;
  const a = mk('tspan', {'font-style': 'italic', 'font-family': 'Liberation Serif, serif'}, t); a.textContent = '\u03b2';
  const b = mk('tspan', {'font-size': 11, dy: 4, 'font-style': 'italic'}, t); b.textContent = 'p';
  const c = mk('tspan', {dy: -4}, t); c.textContent = ' and ';
  const d = mk('tspan', {'font-style': 'italic', 'font-family': 'Liberation Serif, serif'}, t); d.textContent = '\u03b2';
})();
tsLine(tD, betaP, '#0000ff', 'beta-p-line');
(function () {
  const g = mk('g', {}); nm(g, 'legend');
  nm(mk('rect', {x: 1614, y: 2313, width: 68, height: 32, fill: '#fff', stroke: '#000', 'stroke-width': 2}, g), 'legend-frame');
  nm(mk('line', {x1: 1622, x2: 1642, y1: 2329, y2: 2329, stroke: '#0000ff', 'stroke-width': 1.5}, g), 'legend-swatch');
  const t = txt(1652, 2334, '\u03b2', 14, 'start', g, {'font-style': 'italic', 'font-family': 'Liberation Serif, serif'}); nm(t, 'legend-entry-beta-p');
  const s = mk('tspan', {'font-size': 9, dy: 3}, t); s.textContent = 'p';
})();

const tE = tsAxes({name: 'proton-density-chart', y0: 2639, ylim: [0, 40], yticks: ticks(0, 40, 5), title: 'Proton Number Density', ylabel: 'Np(#/cc)', ylx: 66});
tsLine(tE, npDensity, '#0000ff', 'proton-density-line');

const tF = tsAxes({name: 'proton-temperature-chart', y0: 2973, ylim: [0, 0.5], yticks: ticks(0, 0.5, 0.1), ydec: 1, title: 'x', ylabel: 'x', ylx: 62});
(function () {
  const t = tF.o.titleEl; t.textContent = '';
  const a = mk('tspan', {}, t); a.textContent = 'Proton Temperature and ';
  const b = mk('tspan', {'font-style': 'italic', 'font-family': 'Liberation Serif, serif'}, t); b.textContent = 'T';
  const c = mk('tspan', {'font-size': 14, dy: 5, 'font-style': 'italic'}, t); c.textContent = 'e';
  const d = mk('tspan', {dy: -5, 'font-style': 'italic', 'font-family': 'Liberation Serif, serif'}, t); d.textContent = '/T';
  const e = mk('tspan', {'font-size': 14, dy: 5, 'font-style': 'italic'}, t); e.textContent = 'p';
  const y = tF.o.ylabelEl; y.textContent = '';
  const y1 = mk('tspan', {}, y); y1.textContent = 'Tp(10';
  const y2 = mk('tspan', {'font-size': 11, dy: -6}, y); y2.textContent = '6';
  const y3 = mk('tspan', {dy: 6}, y); y3.textContent = 'K)';
})();
tsLine(tF, tpTemp, '#0000ff', 'proton-temperature-line');
(function () {
  const g = mk('g', {}); nm(g, 'legend');
  nm(mk('rect', {x: 124, y: 2979, width: 72, height: 28, fill: '#fff', stroke: '#000', 'stroke-width': 2}, g), 'legend-frame');
  nm(mk('line', {x1: 131, x2: 151, y1: 2993, y2: 2993, stroke: '#0000ff', 'stroke-width': 1.5}, g), 'legend-swatch');
  nm(txt(160, 2998, 'Tp', 14, 'start', g), 'legend-entry-tp');
})();
</script>
</body></html>
